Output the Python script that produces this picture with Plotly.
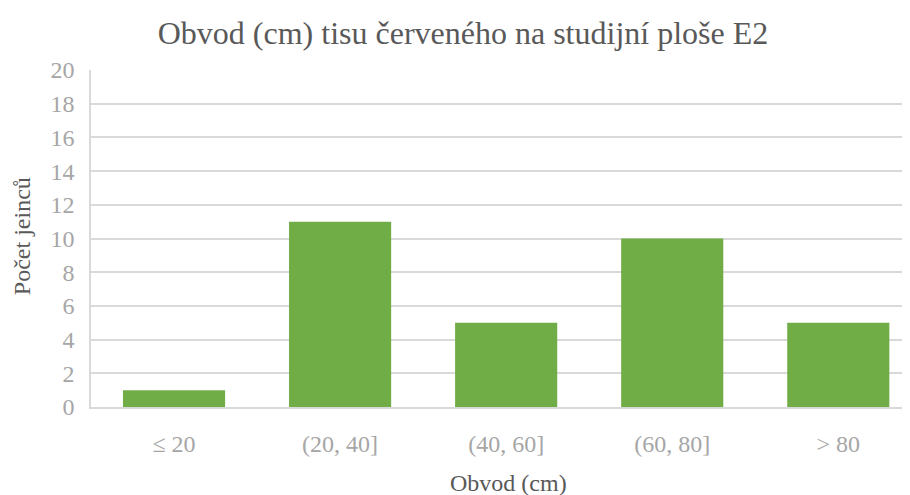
import plotly.graph_objects as go

categories = ["≤ 20", "(20, 40]", "(40, 60]", "(60, 80]", "> 80"]
counts = [1, 11, 5, 10, 5]
y_ticks = [0, 2, 4, 6, 8, 10, 12, 14, 16, 18, 20]

font = "Liberation Serif"

fig = go.Figure(go.Bar(
    x=list(range(len(categories))),
    y=counts,
    marker=dict(color="#70AD47", line=dict(width=0)),
    width=0.615,
))

fig.update_layout(
    width=910, height=495,
    margin=dict(l=83, r=0, t=62, b=96, autoexpand=False),
    paper_bgcolor="white", plot_bgcolor="white",
    title=dict(text="Obvod (cm) tisu červeného na studijní ploše E2",
               x=0.5, xanchor="center", y=1 - 25 / 495, yanchor="middle",
               font=dict(family=font, size=32, color="#595959")),
    showlegend=False,
    font=dict(family=font),
    annotations=[
        dict(text="Obvod (cm)", xref="paper", yref="paper",
             x=(508 - 83 - 8) / 827, y=-0.226, xanchor="center", yanchor="middle",
             showarrow=False,
             font=dict(family=font, size=24, color="#595959")),
        dict(text="Počet jeinců", xref="paper", yref="paper",
             x=-0.0834, y=0.507, xanchor="center", yanchor="middle",
             textangle=-90, showarrow=False,
             font=dict(family=font, size=24, color="#595959")),
    ],
)
fig.update_xaxes(
    tickmode="array", tickvals=list(range(len(categories))), ticktext=categories,
    range=[-0.5, 4.48], automargin=False,
    showgrid=False, showline=True, linecolor="#D9D9D9", linewidth=1.5,
    ticks="", ticklabelstandoff=14,
    tickfont=dict(family=font, size=24, color="#A6A6A6"),
)
fig.update_yaxes(
    range=[0, 20], tickvals=y_ticks, automargin=False,
    showgrid=True, gridcolor="#D9D9D9", gridwidth=1.5,
    showline=True, linecolor="#D9D9D9", linewidth=1.5,
    zeroline=False, ticks="", ticklabelstandoff=10,
    tickfont=dict(family=font, size=24, color="#A6A6A6"),
)

fig.write_html("out.html")
